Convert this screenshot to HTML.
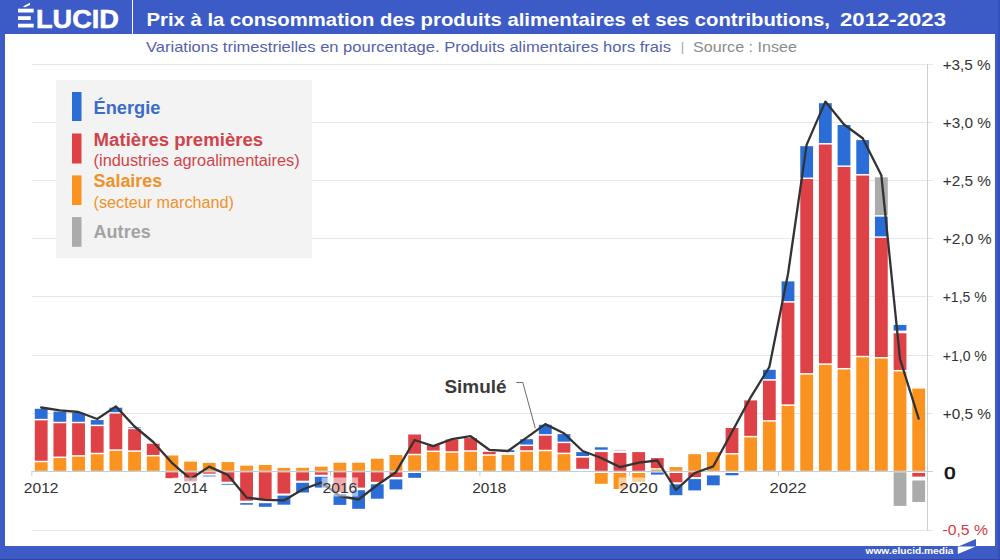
<!DOCTYPE html>
<html><head><meta charset="utf-8"><title>Prix à la consommation des produits alimentaires</title>
<style>
html,body{margin:0;padding:0;}
body{width:1000px;height:560px;overflow:hidden;background:#3c5bc7;font-family:"Liberation Sans",sans-serif;position:relative;}
#paper{position:absolute;left:5px;top:34px;width:990px;height:512px;background:#fff;}
#logo{position:absolute;left:0;top:0;}
#divider{position:absolute;left:131.5px;top:0;width:1.5px;height:34px;background:#fff;}
#title{position:absolute;left:146.5px;top:6.5px;height:24px;line-height:24px;font-size:19px;font-weight:bold;color:#fff;white-space:nowrap;transform-origin:0 0;transform:scaleX(1.0863);}
#sub{position:absolute;left:146px;top:38.5px;height:18px;line-height:18px;font-size:15px;color:#5561ad;white-space:nowrap;transform-origin:0 0;transform:scaleX(1.096);}
#sub span{color:#8a8a8a;}
#chart{position:absolute;left:0;top:0;}
#legend{position:absolute;left:56px;top:80px;width:255.5px;height:177.5px;background:rgba(243,243,243,0.97);}
.sw{position:absolute;left:16px;width:9.5px;}
.lt{position:absolute;left:37.5px;white-space:nowrap;line-height:20px;height:20px;}
.b{font-weight:bold;font-size:18px;}
.s{font-size:16px;}
#foot{position:absolute;left:865.5px;top:545px;height:12px;line-height:12px;font-size:10px;font-weight:bold;color:#fff;white-space:nowrap;}
</style></head><body>
<div id="paper"></div>
<div style="position:absolute;left:997.6px;top:0;width:2.4px;height:560px;background:#3550b6"></div>
<div style="position:absolute;left:0;top:559px;width:1000px;height:1px;background:#33439f"></div>
<svg id="chart" width="1000" height="560" viewBox="0 0 1000 560" font-family="Liberation Sans, sans-serif">
<line x1="32" y1="530.5" x2="933" y2="530.5" stroke="#e7e7e7" stroke-width="1"/>
<line x1="32" y1="413.5" x2="933" y2="413.5" stroke="#e7e7e7" stroke-width="1"/>
<line x1="32" y1="355.5" x2="933" y2="355.5" stroke="#e7e7e7" stroke-width="1"/>
<line x1="32" y1="296.5" x2="933" y2="296.5" stroke="#e7e7e7" stroke-width="1"/>
<line x1="32" y1="238.5" x2="933" y2="238.5" stroke="#e7e7e7" stroke-width="1"/>
<line x1="32" y1="180.5" x2="933" y2="180.5" stroke="#e7e7e7" stroke-width="1"/>
<line x1="32" y1="122.5" x2="933" y2="122.5" stroke="#e7e7e7" stroke-width="1"/>
<line x1="32" y1="64.5" x2="933" y2="64.5" stroke="#e7e7e7" stroke-width="1"/>
<line x1="927.5" y1="64" x2="927.5" y2="530.5" stroke="#cfcfcf" stroke-width="1"/>
<rect x="34.80" y="462.25" width="12.8" height="8.55" fill="#fb9320"/>
<rect x="34.80" y="420.35" width="12.8" height="40.40" fill="#de4247"/>
<rect x="34.80" y="408.80" width="12.8" height="10.05" fill="#2a6dd6"/>
<rect x="53.47" y="458.05" width="12.8" height="12.75" fill="#fb9320"/>
<rect x="53.47" y="423.25" width="12.8" height="33.30" fill="#de4247"/>
<rect x="53.47" y="411.60" width="12.8" height="10.15" fill="#2a6dd6"/>
<rect x="72.14" y="456.65" width="12.8" height="14.15" fill="#fb9320"/>
<rect x="72.14" y="423.25" width="12.8" height="31.90" fill="#de4247"/>
<rect x="72.14" y="412.90" width="12.8" height="8.85" fill="#2a6dd6"/>
<rect x="90.81" y="454.25" width="12.8" height="16.55" fill="#fb9320"/>
<rect x="90.81" y="426.15" width="12.8" height="26.60" fill="#de4247"/>
<rect x="90.81" y="420.10" width="12.8" height="4.55" fill="#2a6dd6"/>
<rect x="109.48" y="450.85" width="12.8" height="19.95" fill="#fb9320"/>
<rect x="109.48" y="413.65" width="12.8" height="35.70" fill="#de4247"/>
<rect x="109.48" y="407.70" width="12.8" height="4.45" fill="#2a6dd6"/>
<rect x="128.15" y="451.85" width="12.8" height="18.95" fill="#fb9320"/>
<rect x="128.15" y="429.20" width="12.8" height="21.15" fill="#de4247"/>
<rect x="128.15" y="427.40" width="12.8" height="0.80" fill="#2a6dd6"/>
<rect x="146.82" y="456.45" width="12.8" height="14.35" fill="#fb9320"/>
<rect x="146.82" y="443.70" width="12.8" height="11.25" fill="#de4247"/>
<rect x="165.49" y="455.50" width="12.8" height="15.30" fill="#fb9320"/>
<rect x="165.49" y="472.30" width="12.8" height="5.90" fill="#de4247"/>
<rect x="184.16" y="461.60" width="12.8" height="9.20" fill="#fb9320"/>
<rect x="184.16" y="472.30" width="12.8" height="9.10" fill="#de4247"/>
<rect x="202.83" y="462.90" width="12.8" height="7.90" fill="#fb9320"/>
<rect x="202.83" y="472.30" width="12.8" height="1.40" fill="#de4247"/>
<rect x="202.83" y="475.60" width="12.8" height="0.80" fill="#2a6dd6"/>
<rect x="221.50" y="462.10" width="12.8" height="8.70" fill="#fb9320"/>
<rect x="221.50" y="472.30" width="12.8" height="9.40" fill="#de4247"/>
<rect x="221.50" y="483.90" width="12.8" height="0.80" fill="#2a6dd6"/>
<rect x="240.17" y="465.70" width="12.8" height="5.10" fill="#fb9320"/>
<rect x="240.17" y="472.30" width="12.8" height="28.40" fill="#de4247"/>
<rect x="240.17" y="503.10" width="12.8" height="1.60" fill="#2a6dd6"/>
<rect x="258.84" y="465.00" width="12.8" height="5.80" fill="#fb9320"/>
<rect x="258.84" y="472.30" width="12.8" height="27.90" fill="#de4247"/>
<rect x="258.84" y="503.20" width="12.8" height="3.60" fill="#2a6dd6"/>
<rect x="277.51" y="467.90" width="12.8" height="2.90" fill="#fb9320"/>
<rect x="277.51" y="472.30" width="12.8" height="21.20" fill="#de4247"/>
<rect x="277.51" y="495.60" width="12.8" height="9.10" fill="#2a6dd6"/>
<rect x="296.18" y="467.80" width="12.8" height="3.00" fill="#fb9320"/>
<rect x="296.18" y="472.30" width="12.8" height="8.40" fill="#de4247"/>
<rect x="296.18" y="482.80" width="12.8" height="9.70" fill="#2a6dd6"/>
<rect x="314.85" y="466.70" width="12.8" height="4.10" fill="#fb9320"/>
<rect x="314.85" y="472.30" width="12.8" height="2.40" fill="#de4247"/>
<rect x="314.85" y="476.80" width="12.8" height="10.80" fill="#2a6dd6"/>
<rect x="333.52" y="462.70" width="12.8" height="8.10" fill="#fb9320"/>
<rect x="333.52" y="472.30" width="12.8" height="19.70" fill="#de4247"/>
<rect x="333.52" y="494.00" width="12.8" height="10.90" fill="#2a6dd6"/>
<rect x="352.19" y="462.70" width="12.8" height="8.10" fill="#fb9320"/>
<rect x="352.19" y="472.30" width="12.8" height="15.30" fill="#de4247"/>
<rect x="352.19" y="490.20" width="12.8" height="18.60" fill="#2a6dd6"/>
<rect x="370.86" y="458.70" width="12.8" height="12.10" fill="#fb9320"/>
<rect x="370.86" y="472.30" width="12.8" height="9.50" fill="#de4247"/>
<rect x="370.86" y="484.30" width="12.8" height="14.40" fill="#2a6dd6"/>
<rect x="389.53" y="455.00" width="12.8" height="15.80" fill="#fb9320"/>
<rect x="389.53" y="472.30" width="12.8" height="4.70" fill="#de4247"/>
<rect x="389.53" y="479.40" width="12.8" height="10.00" fill="#2a6dd6"/>
<rect x="408.20" y="455.25" width="12.8" height="15.55" fill="#fb9320"/>
<rect x="408.20" y="434.50" width="12.8" height="19.25" fill="#de4247"/>
<rect x="408.20" y="473.00" width="12.8" height="4.80" fill="#2a6dd6"/>
<rect x="426.87" y="452.05" width="12.8" height="18.75" fill="#fb9320"/>
<rect x="426.87" y="445.20" width="12.8" height="5.35" fill="#de4247"/>
<rect x="445.54" y="452.75" width="12.8" height="18.05" fill="#fb9320"/>
<rect x="445.54" y="439.50" width="12.8" height="11.75" fill="#de4247"/>
<rect x="464.21" y="451.75" width="12.8" height="19.05" fill="#fb9320"/>
<rect x="464.21" y="438.10" width="12.8" height="12.15" fill="#de4247"/>
<rect x="482.88" y="455.75" width="12.8" height="15.05" fill="#fb9320"/>
<rect x="482.88" y="451.80" width="12.8" height="2.45" fill="#de4247"/>
<rect x="501.55" y="454.95" width="12.8" height="15.85" fill="#fb9320"/>
<rect x="501.55" y="453.45" width="12.8" height="0.10" fill="#de4247"/>
<rect x="501.55" y="450.20" width="12.8" height="1.85" fill="#2a6dd6"/>
<rect x="520.22" y="451.75" width="12.8" height="19.05" fill="#fb9320"/>
<rect x="520.22" y="446.05" width="12.8" height="4.20" fill="#de4247"/>
<rect x="520.22" y="439.20" width="12.8" height="5.35" fill="#2a6dd6"/>
<rect x="538.89" y="451.25" width="12.8" height="19.55" fill="#fb9320"/>
<rect x="538.89" y="435.65" width="12.8" height="14.10" fill="#de4247"/>
<rect x="538.89" y="424.80" width="12.8" height="9.35" fill="#2a6dd6"/>
<rect x="557.56" y="454.15" width="12.8" height="16.65" fill="#fb9320"/>
<rect x="557.56" y="443.15" width="12.8" height="9.50" fill="#de4247"/>
<rect x="557.56" y="434.10" width="12.8" height="7.55" fill="#2a6dd6"/>
<rect x="576.23" y="457.70" width="12.8" height="11.10" fill="#de4247"/>
<rect x="576.23" y="452.10" width="12.8" height="3.90" fill="#2a6dd6"/>
<rect x="594.90" y="452.10" width="12.8" height="18.70" fill="#de4247"/>
<rect x="594.90" y="447.30" width="12.8" height="2.40" fill="#2a6dd6"/>
<rect x="594.90" y="473.00" width="12.8" height="10.80" fill="#fb9320"/>
<rect x="613.57" y="452.90" width="12.8" height="17.90" fill="#de4247"/>
<rect x="613.57" y="449.90" width="12.8" height="0.60" fill="#ababab"/>
<rect x="613.57" y="473.00" width="12.8" height="16.00" fill="#fb9320"/>
<rect x="632.24" y="452.10" width="12.8" height="18.70" fill="#de4247"/>
<rect x="632.24" y="473.00" width="12.8" height="8.80" fill="#fb9320"/>
<rect x="650.91" y="469.60" width="12.8" height="1.20" fill="#fb9320"/>
<rect x="650.91" y="458.10" width="12.8" height="10.10" fill="#de4247"/>
<rect x="650.91" y="472.50" width="12.8" height="2.10" fill="#2a6dd6"/>
<rect x="669.58" y="467.10" width="12.8" height="3.70" fill="#fb9320"/>
<rect x="669.58" y="473.00" width="12.8" height="9.30" fill="#de4247"/>
<rect x="669.58" y="484.30" width="12.8" height="10.90" fill="#2a6dd6"/>
<rect x="688.25" y="454.20" width="12.8" height="16.60" fill="#fb9320"/>
<rect x="688.25" y="472.30" width="12.8" height="4.70" fill="#de4247"/>
<rect x="688.25" y="479.10" width="12.8" height="11.30" fill="#2a6dd6"/>
<rect x="706.92" y="452.10" width="12.8" height="18.70" fill="#fb9320"/>
<rect x="706.92" y="475.40" width="12.8" height="9.90" fill="#2a6dd6"/>
<rect x="725.59" y="454.55" width="12.8" height="16.25" fill="#fb9320"/>
<rect x="725.59" y="428.00" width="12.8" height="25.05" fill="#de4247"/>
<rect x="725.59" y="473.00" width="12.8" height="2.30" fill="#2a6dd6"/>
<rect x="744.26" y="437.35" width="12.8" height="33.45" fill="#fb9320"/>
<rect x="744.26" y="400.40" width="12.8" height="35.45" fill="#de4247"/>
<rect x="762.93" y="421.65" width="12.8" height="49.15" fill="#fb9320"/>
<rect x="762.93" y="380.65" width="12.8" height="39.50" fill="#de4247"/>
<rect x="762.93" y="369.80" width="12.8" height="9.35" fill="#2a6dd6"/>
<rect x="781.60" y="405.85" width="12.8" height="64.95" fill="#fb9320"/>
<rect x="781.60" y="302.65" width="12.8" height="101.70" fill="#de4247"/>
<rect x="781.60" y="281.40" width="12.8" height="19.75" fill="#2a6dd6"/>
<rect x="800.27" y="374.65" width="12.8" height="96.15" fill="#fb9320"/>
<rect x="800.27" y="179.05" width="12.8" height="194.10" fill="#de4247"/>
<rect x="800.27" y="146.20" width="12.8" height="31.35" fill="#2a6dd6"/>
<rect x="818.94" y="364.85" width="12.8" height="105.95" fill="#fb9320"/>
<rect x="818.94" y="144.55" width="12.8" height="218.80" fill="#de4247"/>
<rect x="818.94" y="103.20" width="12.8" height="39.85" fill="#2a6dd6"/>
<rect x="837.61" y="369.45" width="12.8" height="101.35" fill="#fb9320"/>
<rect x="837.61" y="166.95" width="12.8" height="201.00" fill="#de4247"/>
<rect x="837.61" y="125.00" width="12.8" height="40.45" fill="#2a6dd6"/>
<rect x="856.28" y="357.25" width="12.8" height="113.55" fill="#fb9320"/>
<rect x="856.28" y="175.55" width="12.8" height="180.20" fill="#de4247"/>
<rect x="856.28" y="140.10" width="12.8" height="33.95" fill="#2a6dd6"/>
<rect x="874.95" y="358.55" width="12.8" height="112.25" fill="#fb9320"/>
<rect x="874.95" y="237.85" width="12.8" height="119.20" fill="#de4247"/>
<rect x="874.95" y="216.65" width="12.8" height="19.70" fill="#2a6dd6"/>
<rect x="874.95" y="177.30" width="12.8" height="37.85" fill="#ababab"/>
<rect x="893.62" y="371.45" width="12.8" height="99.35" fill="#fb9320"/>
<rect x="893.62" y="333.30" width="12.8" height="36.65" fill="#de4247"/>
<rect x="893.62" y="324.90" width="12.8" height="5.70" fill="#2a6dd6"/>
<rect x="893.62" y="472.30" width="12.8" height="33.60" fill="#ababab"/>
<rect x="912.29" y="388.60" width="12.8" height="82.20" fill="#fb9320"/>
<rect x="912.29" y="472.90" width="12.8" height="3.70" fill="#de4247"/>
<rect x="912.29" y="480.50" width="12.8" height="21.50" fill="#ababab"/>
<line x1="31.5" y1="471.5" x2="933" y2="471.5" stroke="#bccfe6" stroke-width="1.2"/>
<line x1="31.86" y1="471.5" x2="31.86" y2="476.0" stroke="#bccfe6" stroke-width="1"/>
<line x1="181.23" y1="471.5" x2="181.23" y2="476.0" stroke="#bccfe6" stroke-width="1"/>
<line x1="330.59" y1="471.5" x2="330.59" y2="476.0" stroke="#bccfe6" stroke-width="1"/>
<line x1="479.95" y1="471.5" x2="479.95" y2="476.0" stroke="#bccfe6" stroke-width="1"/>
<line x1="629.31" y1="471.5" x2="629.31" y2="476.0" stroke="#bccfe6" stroke-width="1"/>
<line x1="778.67" y1="471.5" x2="778.67" y2="476.0" stroke="#bccfe6" stroke-width="1"/>
<polyline points="41.20,407.5 59.87,410.4 78.54,412 97.21,419 115.88,406.4 134.55,426.5 153.22,442 171.89,462.8 190.56,479 209.23,466.6 227.90,475 246.57,497.6 265.24,499.9 283.91,500.4 302.58,489.5 321.25,482.5 339.92,496 358.59,499.5 377.26,485 395.93,472.2 414.60,440 433.27,446.2 451.94,439.2 470.61,436.2 489.28,449.8 507.95,451 526.62,437.6 545.29,424.1 563.96,433.3 582.63,451 601.30,458 619.97,467.1 638.64,462.6 657.31,460.5 675.98,489.9 694.65,473 713.32,466.3 731.99,432 750.66,397.3 769.33,367 788.00,274 806.67,144.6 825.34,101.6 844.01,124.5 862.68,138.2 881.35,175.3 900.02,359 918.69,418.6" fill="none" stroke="#333" stroke-width="2.3" stroke-linejoin="round" stroke-linecap="round"/>
<rect x="23.05" y="477.5" width="36.30" height="19" fill="#fff" fill-opacity="0.55"/>
<text x="23.85" y="493.1" font-size="15.5" fill="#333" textLength="34.7" lengthAdjust="spacingAndGlyphs">2012</text>
<rect x="172.66" y="477.5" width="35.80" height="19" fill="#fff" fill-opacity="0.55"/>
<text x="173.46" y="493.1" font-size="15.5" fill="#333" textLength="34.2" lengthAdjust="spacingAndGlyphs">2014</text>
<rect x="321.72" y="477.5" width="36.40" height="19" fill="#fff" fill-opacity="0.55"/>
<text x="322.52" y="493.1" font-size="15.5" fill="#333" textLength="34.8" lengthAdjust="spacingAndGlyphs">2016</text>
<rect x="471.38" y="477.5" width="35.80" height="19" fill="#fff" fill-opacity="0.55"/>
<text x="472.18" y="493.1" font-size="15.5" fill="#333" textLength="34.2" lengthAdjust="spacingAndGlyphs">2018</text>
<rect x="618.59" y="477.5" width="40.10" height="19" fill="#fff" fill-opacity="0.55"/>
<text x="619.39" y="493.1" font-size="15.5" fill="#333" textLength="38.5" lengthAdjust="spacingAndGlyphs">2020</text>
<rect x="768.70" y="477.5" width="38.60" height="19" fill="#fff" fill-opacity="0.55"/>
<text x="769.50" y="493.1" font-size="15.5" fill="#333" textLength="37.0" lengthAdjust="spacingAndGlyphs">2022</text>
<text x="942.7" y="418.7" font-size="15" fill="#333" textLength="48.2" lengthAdjust="spacingAndGlyphs">+0,5 %</text>
<text x="942.7" y="360.5" font-size="15" fill="#333" textLength="44.2" lengthAdjust="spacingAndGlyphs">+1,0 %</text>
<text x="942.7" y="302.3" font-size="15" fill="#333" textLength="44.0" lengthAdjust="spacingAndGlyphs">+1,5 %</text>
<text x="942.7" y="244.1" font-size="15" fill="#333" textLength="49.0" lengthAdjust="spacingAndGlyphs">+2,0 %</text>
<text x="942.7" y="185.9" font-size="15" fill="#333" textLength="48.2" lengthAdjust="spacingAndGlyphs">+2,5 %</text>
<text x="942.7" y="127.7" font-size="15" fill="#333" textLength="48.2" lengthAdjust="spacingAndGlyphs">+3,0 %</text>
<text x="942.7" y="69.5" font-size="15" fill="#333" textLength="48.0" lengthAdjust="spacingAndGlyphs">+3,5 %</text>
<text x="942.5" y="535.3" font-size="15" fill="#d33a42" textLength="45.5" lengthAdjust="spacingAndGlyphs">-0,5 %</text>
<text x="944.3" y="478.9" font-size="16.5" fill="#111" stroke="#111" stroke-width="0.7" textLength="11.2" lengthAdjust="spacingAndGlyphs">0</text>
<text x="444.5" y="393.4" font-size="18.5" font-weight="bold" fill="#3a3a3a" textLength="62" lengthAdjust="spacingAndGlyphs">Simulé</text>
<polyline points="516.4,382.5 522.8,382.5 535.3,428.3" fill="none" stroke="#444" stroke-width="0.8"/>
</svg>
<div id="legend"></div>
<svg id="lg" style="position:absolute;left:0;top:70px" width="340" height="200" viewBox="0 70 340 200" font-family="Liberation Sans, sans-serif">
 <rect x="72" y="92" width="9.5" height="29" fill="#2a6dd6"/>
 <rect x="72" y="133.5" width="9.5" height="30" fill="#de4247"/>
 <rect x="72" y="175.4" width="9.5" height="29.6" fill="#fb9320"/>
 <rect x="72" y="217.1" width="9.5" height="29.7" fill="#ababab"/>
 <text x="93.6" y="113.7" font-size="18" font-weight="bold" fill="#3a6cc8" textLength="66.8" lengthAdjust="spacingAndGlyphs">Énergie</text>
 <text x="93.6" y="145.7" font-size="18" font-weight="bold" fill="#d1434a" textLength="169.6" lengthAdjust="spacingAndGlyphs">Matières premières</text>
 <text x="93.6" y="165.7" font-size="16" fill="#d1434a" textLength="206" lengthAdjust="spacingAndGlyphs">(industries agroalimentaires)</text>
 <text x="93.6" y="187.1" font-size="18" font-weight="bold" fill="#f0912a" textLength="68.6" lengthAdjust="spacingAndGlyphs">Salaires</text>
 <text x="93.6" y="207.5" font-size="16" fill="#f0912a" textLength="140.4" lengthAdjust="spacingAndGlyphs">(secteur marchand)</text>
 <text x="93.6" y="237.9" font-size="18" font-weight="bold" fill="#a3a3a3" textLength="57.1" lengthAdjust="spacingAndGlyphs">Autres</text>
</svg>
<svg id="logo" width="135" height="34" viewBox="0 0 135 34">
 <g fill="#fff">
  <rect x="18" y="8.7" width="15.7" height="3.8"/>
  <rect x="18" y="16.2" width="12.8" height="3.8"/>
  <rect x="18" y="23.7" width="15.7" height="3.8"/>
  <polygon points="22.9,6.5 30,2.8 30,5.1 25,7.3"/>
 </g>
 <text x="36" y="27.5" font-family="Liberation Sans, sans-serif" font-weight="bold" font-size="26.4" fill="#fff" stroke="#fff" stroke-width="0.55" textLength="83" lengthAdjust="spacingAndGlyphs">LUCID</text>
</svg>
<div id="divider"></div>
<svg id="hdr" style="position:absolute;left:0;top:0" width="1000" height="62" viewBox="0 0 1000 62" font-family="Liberation Sans, sans-serif">
 <text x="146.5" y="25.6" font-size="19" font-weight="bold" fill="#fff" textLength="683.5" lengthAdjust="spacingAndGlyphs">Prix à la consommation des produits alimentaires et ses contributions,</text>
 <text x="840" y="25.6" font-size="19" font-weight="bold" fill="#fff" textLength="106" lengthAdjust="spacingAndGlyphs">2012-2023</text>
 <text x="146" y="51.9" font-size="15" fill="#5561ad" textLength="525" lengthAdjust="spacingAndGlyphs">Variations trimestrielles en pourcentage. Produits alimentaires hors frais</text>
 <text x="680.8" y="51" font-size="13" fill="#a0a0a0">|</text>
 <text x="693" y="51.9" font-size="15" fill="#8c8c8c" textLength="104" lengthAdjust="spacingAndGlyphs">Source : Insee</text>
</svg>
<svg style="position:absolute;left:860px;top:544px" width="100" height="14" viewBox="860 544 100 14" font-family="Liberation Sans, sans-serif"><text x="865.5" y="554.3" font-size="9" font-weight="bold" fill="#fff" textLength="88" lengthAdjust="spacingAndGlyphs">www.elucid.media</text></svg>
<svg style="position:absolute;left:955px;top:536px" width="24" height="22" viewBox="955 536 24 22">
 <polygon points="959,546.2 976,539 976,546.2" fill="#3c5bc7"/>
 <polygon points="957.8,546.4 975.6,546.4 957.8,554" fill="#fff"/>
</svg>
</body></html>
